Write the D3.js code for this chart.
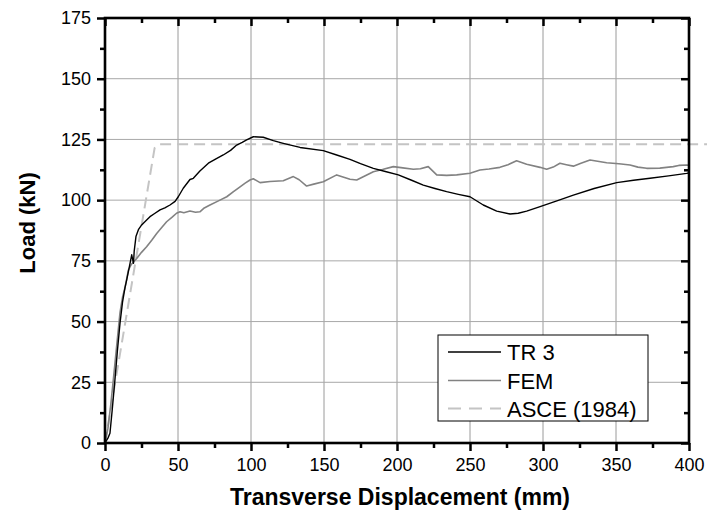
<!DOCTYPE html>
<html>
<head>
<meta charset="utf-8">
<script src="https://cdn.jsdelivr.net/npm/d3@7"></script>
<style>
  body { margin: 0; background: #fff; }
  svg { display: block; font-family: Arial, "Liberation Sans", sans-serif; }
</style>
</head>
<body>
<svg id="chart" width="707" height="514"></svg>
<script>
// ---- data ----
const seriesNames = ["TR 3", "FEM", "ASCE (1984)"];

const tr3X = [0, 2, 3.4, 5, 6.8, 8.5, 10.3, 12, 13.7, 14.8, 16.5, 18.3, 19.5, 20, 21.2, 23, 25.1, 28, 30.8, 34, 37.7, 41, 44.5, 48, 50.2, 53.6, 58.2, 60.5, 65, 70.8, 76, 81, 86, 90.2, 94, 97, 101.6, 105, 108.4, 115.3, 122.1, 133.6, 149.5, 158.7, 167.8, 175, 183.8, 192, 200.9, 210, 218, 226, 234, 242, 250, 259.1, 268.3, 277.4, 283, 288.8, 298, 310, 320.8, 335, 350.5, 362, 373.3, 386, 398.4, 400];
const tr3Y = [0, 2, 4, 14, 26, 38, 49.4, 58, 64, 67, 72, 77.5, 74, 79, 85, 88, 89.8, 91.5, 93.2, 94.5, 96, 96.8, 98, 99.5, 101.4, 104.9, 108.5, 109, 112, 115.2, 117, 118.6, 120.5, 122.7, 123.8, 124.8, 126.1, 126, 125.9, 124.5, 123.4, 121.7, 120.4, 118.6, 116.8, 115, 113.1, 111.8, 110.4, 108.2, 106.2, 104.8, 103.5, 102.4, 101.4, 98, 95.5, 94.3, 94.6, 95.5, 97.3, 99.8, 102.1, 104.8, 107.2, 108.2, 109, 110, 111, 111.2];

const femX = [0, 2, 4, 5.7, 8, 10.3, 12, 13.7, 16, 18, 21.7, 25, 28.5, 32, 35.4, 39, 42.2, 46, 49, 51.4, 54, 58.2, 62, 65, 68, 71.9, 77, 83.4, 88, 92.5, 96, 99.3, 101.6, 106.2, 113, 122.1, 129, 133, 138.1, 143, 149.5, 158.7, 167.8, 172.4, 183.8, 190, 197.5, 204, 211.2, 216, 221.4, 227.2, 234, 240.9, 250, 256.8, 263, 270.5, 276, 281.9, 288.8, 298, 302.5, 307, 311.6, 316, 320.8, 326, 332.2, 343.6, 352, 359.6, 365, 371, 380, 389.2, 393, 398.4, 400];
const femY = [0, 6, 16, 26, 40, 53.8, 60, 64, 71.2, 73.5, 76, 78.5, 80.8, 83.5, 86.3, 88.8, 91.1, 93, 94.6, 95.2, 94.8, 95.5, 95, 95.2, 96.8, 98, 99.5, 101.4, 103.5, 105.5, 107, 108.3, 108.8, 107.2, 107.7, 108, 109.7, 108.4, 105.8, 106.6, 107.6, 110.4, 108.6, 108.3, 111.7, 112.6, 113.8, 113.3, 112.7, 112.9, 113.8, 110.4, 110.2, 110.4, 111.1, 112.4, 112.8, 113.5, 114.6, 116.2, 114.8, 113.5, 112.7, 113.6, 115.2, 114.6, 114, 115.2, 116.5, 115.4, 115, 114.5, 113.6, 113.1, 113.2, 113.8, 114.3, 114.5, 114.4];

const asceX = [0, 34, 37, 430];
const asceY = [0, 121.5, 123, 123];

const xTicks = [0, 50, 100, 150, 200, 250, 300, 350, 400];
const yTicks = [0, 25, 50, 75, 100, 125, 150, 175];
const xMinor = [25, 75, 125, 175, 225, 275, 325, 375];
const yMinor = [12.5, 37.5, 62.5, 87.5, 112.5, 137.5, 162.5];
const xTitle = "Transverse Displacement (mm)";
const yTitle = "Load (kN)";

// ---- layout ----
const L = 105, R = 689, T = 18, B = 443;
const svg = d3.select("#chart");
const x = d3.scaleLinear().domain([0, 400]).range([L, R]);
const y = d3.scaleLinear().domain([0, 175]).range([B, T]);

// grid
const grid = svg.append("g");
grid.selectAll("line.v").data(xTicks.slice(1, -1)).join("line")
  .attr("x1", d => x(d)).attr("x2", d => x(d)).attr("y1", T).attr("y2", B)
  .attr("stroke", "#9a9a9a").attr("stroke-width", 1);
grid.selectAll("line.h").data(yTicks.slice(1, -1)).join("line")
  .attr("x1", L).attr("x2", R).attr("y1", d => y(d)).attr("y2", d => y(d))
  .attr("stroke", "#a8a8a8").attr("stroke-width", 1);

// series
const zip = (xs, ys) => xs.map((v, i) => [v, ys[i]]);
const line = d3.line().x(d => x(d[0])).y(d => y(d[1]));

svg.append("path").datum(zip(asceX, asceY)).attr("d", line)
  .attr("fill", "none").attr("stroke", "#c4c4c4").attr("stroke-width", 2)
  .attr("stroke-dasharray", "11,6");
svg.append("path").datum(zip(femX, femY)).attr("d", line)
  .attr("fill", "none").attr("stroke", "#828282").attr("stroke-width", 1.6)
  .attr("stroke-linejoin", "round");
svg.append("path").datum(zip(tr3X, tr3Y)).attr("d", line)
  .attr("fill", "none").attr("stroke", "#000").attr("stroke-width", 1.4)
  .attr("stroke-linejoin", "round");

// axes
const fs = 18;
const gBottom = svg.append("g").attr("transform", `translate(0,${B})`)
  .call(d3.axisBottom(x).tickValues(xTicks).tickSize(8).tickPadding(7).tickFormat(d3.format("d")));
gBottom.append("g").call(d3.axisBottom(x).tickValues(xMinor).tickSize(5).tickFormat(""));
const gTop = svg.append("g").attr("transform", `translate(0,${T})`)
  .call(d3.axisBottom(x).tickValues(xTicks).tickSize(8).tickFormat(""));
gTop.append("g").call(d3.axisBottom(x).tickValues(xMinor).tickSize(5).tickFormat(""));
const gLeft = svg.append("g").attr("transform", `translate(${L},0)`)
  .call(d3.axisLeft(y).tickValues(yTicks).tickSize(8).tickPadding(6).tickFormat(d3.format("d")));
gLeft.append("g").call(d3.axisLeft(y).tickValues(yMinor).tickSize(5).tickFormat(""));
const gRight = svg.append("g").attr("transform", `translate(${R},0)`)
  .call(d3.axisLeft(y).tickValues(yTicks).tickSize(8).tickFormat(""));
gRight.append("g").call(d3.axisLeft(y).tickValues(yMinor).tickSize(5).tickFormat(""));

svg.selectAll(".domain").remove();
svg.selectAll(".tick line").attr("stroke", "#000").attr("stroke-width", 2.5);
svg.selectAll(".tick text").attr("font-size", fs).attr("fill", "#000")
  .attr("font-family", "Arial, 'Liberation Sans', sans-serif");

// frame
svg.append("rect").attr("x", L).attr("y", T).attr("width", R - L).attr("height", B - T)
  .attr("fill", "none").attr("stroke", "#000").attr("stroke-width", 2.6);

// titles
svg.append("text").attr("x", 400).attr("y", 505).attr("text-anchor", "middle")
  .attr("font-size", 23).attr("font-weight", "bold").text(xTitle);
svg.append("text").attr("transform", "translate(35,223) rotate(-90)").attr("text-anchor", "middle")
  .attr("font-size", 22).attr("font-weight", "bold").text(yTitle);

// legend
const lg = svg.append("g");
lg.append("rect").attr("x", 438).attr("y", 335).attr("width", 210).attr("height", 86)
  .attr("fill", "#fff").attr("stroke", "#000").attr("stroke-width", 1);
const styles = [
  { c: "#000", w: 1.4, dash: null },
  { c: "#828282", w: 1.6, dash: null },
  { c: "#c4c4c4", w: 2, dash: "13,8" }
];
const rowY = [352, 380.5, 408.5];
seriesNames.forEach((n, i) => {
  lg.append("line").attr("x1", 448).attr("x2", 501).attr("y1", rowY[i]).attr("y2", rowY[i])
    .attr("stroke", styles[i].c).attr("stroke-width", styles[i].w)
    .attr("stroke-dasharray", styles[i].dash);
  lg.append("text").attr("x", 507).attr("y", rowY[i] + 8).attr("font-size", 22).text(n);
});
</script>
</body>
</html>
